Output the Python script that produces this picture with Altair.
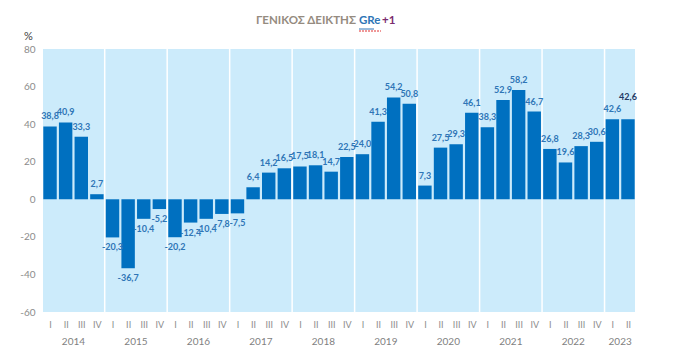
import altair as alt
import pandas as pd

years = [2014, 2015, 2016, 2017, 2018, 2019, 2020, 2021, 2022, 2023]
quarters_per_year = [4, 4, 4, 4, 4, 4, 4, 4, 4, 2]
quarter_names = ["I", "II", "III", "IV"]
values = [38.8, 40.9, 33.3, 2.7,
          -20.3, -36.7, -10.4, -5.2,
          -20.2, -12.4, -10.4, -7.8,
          -7.5, 6.4, 14.2, 16.5,
          17.5, 18.1, 14.7, 22.5,
          24.0, 41.3, 54.2, 50.8,
          7.3, 27.5, 29.3, 46.1,
          38.3, 52.9, 58.2, 46.7,
          26.8, 19.6, 28.3, 30.6,
          42.6, 42.6]
title_parts = ["ΓΕΝΙΚΟΣ ΔΕΙΚΤΗΣ", "GRe", "+1"]
y_ticks = [-60, -40, -20, 0, 20, 40, 60, 80]

rows = []
i = 0
for yr, n in zip(years, quarters_per_year):
    for q in range(n):
        rows.append(dict(idx=i, year=str(yr), quarter=quarter_names[q], value=values[i]))
        i += 1
df = pd.DataFrame(rows)
df["x0"] = df["idx"] - 0.43
df["x1"] = df["idx"] + 0.43
df["label"] = df["value"].map(lambda v: f"{v:.1f}".replace(".", ","))
df["last"] = df["idx"] == df["idx"].max()

year_df = df.groupby("year").agg(xmid=("idx", "mean"), start=("idx", "min")).reset_index()
sep_df = year_df[year_df["start"] > 0].copy()
sep_df["pos"] = sep_df["start"] - 0.5

W, H = 592, 263
FONT = "Lato"
xscale = alt.Scale(domain=[-0.45, len(values) - 0.55], nice=False, zero=False)
yscale = alt.Scale(domain=[-60, 80], nice=False)

xaxis = alt.Axis(values=list(range(len(values))),
                 labelExpr="['I','II','III','IV'][datum.value % 4]",
                 grid=False, domain=False, ticks=False,
                 labelColor="#8C8C8C", labelFontSize=9, labelPadding=8,
                 labelFlush=False, labelOverlap=False, title=None)
yaxis = alt.Axis(values=y_ticks, labelExpr="'' + datum.value",
                 grid=False, domain=False, ticks=False, labelOverlap=False,
                 labelColor="#8C8C8C", labelFontSize=10, labelPadding=8,
                 title="%", titleAngle=0, titleX=-15, titleY=-8,
                 titleAlign="center", titleBaseline="bottom",
                 titleFontWeight="normal", titleColor="#404040",
                 titleFontSize=11)


def X(field):
    return alt.X(field, scale=xscale, axis=xaxis)


def Y(field):
    return alt.Y(field, scale=yscale, axis=yaxis)


seps = alt.Chart(sep_df).mark_rule(color="white", strokeWidth=1.5).encode(
    x=X("pos:Q"),
    y=alt.value(0),
    y2=alt.value(H),
)

bars = alt.Chart(df).mark_bar(color="#0070C0").encode(
    x=X("x0:Q"),
    x2="x1:Q",
    y=Y("value:Q"),
    y2=alt.datum(0),
)

lab_color = alt.condition("datum.last", alt.value("#1F3864"), alt.value("#2E75B6"))
LFS = 9

pos_labels = alt.Chart(df).transform_filter(
    "datum.value >= 0 && !datum.last"
).mark_text(baseline="bottom", dy=-5, fontWeight="bold", fontSize=LFS).encode(
    x=X("idx:Q"), y=Y("value:Q"), text="label:N", color=lab_color,
)
last_label = alt.Chart(df).transform_filter("datum.last").mark_text(
    baseline="bottom", dy=-17, fontWeight="bold", fontSize=LFS
).encode(
    x=X("idx:Q"), y=Y("value:Q"), text="label:N", color=lab_color,
)
neg_labels = alt.Chart(df).transform_filter("datum.value < 0").mark_text(
    baseline="top", dy=6, fontWeight="bold", fontSize=LFS
).encode(
    x=X("idx:Q"), y=Y("value:Q"), text="label:N", color=lab_color,
)

year_labels = alt.Chart(year_df).mark_text(fontSize=10, color="#7F7F7F", baseline="middle").encode(
    x=X("xmid:Q"), y=alt.value(H + 30), text="year:N"
)

t_df = pd.DataFrame({"t": title_parts})
t1 = alt.Chart(t_df).transform_filter(alt.datum.t == title_parts[0]).mark_text(
    align="right", baseline="middle", fontSize=11.5, fontWeight="bold", color="#958B80"
).encode(x=alt.value(313), y=alt.value(-28), text="t:N")
t2 = alt.Chart(t_df).transform_filter(alt.datum.t == title_parts[1]).mark_text(
    align="left", baseline="middle", fontSize=11.5, fontWeight="bold", color="#2E75B6"
).encode(x=alt.value(316), y=alt.value(-28), text="t:N")
t3 = alt.Chart(t_df).transform_filter(alt.datum.t == title_parts[2]).mark_text(
    align="left", baseline="middle", fontSize=11.5, fontWeight="bold", color="#7B2C6E"
).encode(x=alt.value(339), y=alt.value(-28), text="t:N")
underline = alt.Chart(t_df).transform_filter(alt.datum.t == title_parts[1]).mark_rule(
    color="#2E75B6", strokeWidth=1
).encode(x=alt.value(316), x2=alt.value(331), y=alt.value(-20))
squiggle = alt.Chart(t_df).transform_filter(alt.datum.t == title_parts[1]).mark_rule(
    color="#E03030", strokeWidth=1, strokeDash=[2, 1]
).encode(x=alt.value(316), x2=alt.value(338), y=alt.value(-18))

chart = alt.layer(
    seps, bars, pos_labels, last_label, neg_labels, year_labels,
    t1, t2, t3, underline, squiggle
).properties(
    width=W, height=H,
    autosize=alt.AutoSizeParams(type="none"),
    padding={"left": 35, "top": 41, "right": 33, "bottom": 36},
).configure(font=FONT).configure_view(fill="#CCEBFB", strokeWidth=0)

chart.save("out.html", embed_options={"renderer": "svg", "actions": False})
